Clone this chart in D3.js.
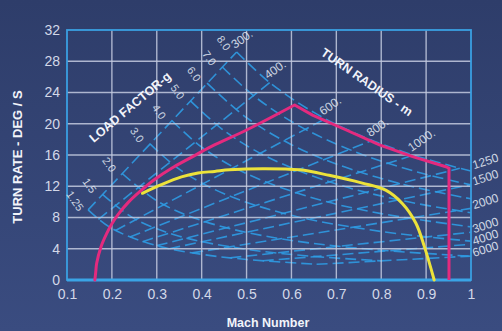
<!DOCTYPE html>
<html>
<head>
<meta charset="utf-8">
<script src="https://cdn.jsdelivr.net/npm/d3@7"></script>
<style>
  html, body { margin: 0; padding: 0; background: #34467a; }
  svg { display: block; }
  text { font-family: "Liberation Sans", Arial, sans-serif; }
</style>
</head>
<body>
<svg id="chart" width="502" height="331"></svg>
<script>
// ---------- data ----------
const machTicks = [0.1, 0.2, 0.3, 0.4, 0.5, 0.6, 0.7, 0.8, 0.9, 1];
const machTickLabels = ["0.1", "0.2", "0.3", "0.4", "0.5", "0.6", "0.7", "0.8", "0.9", "1"];
const rateTicks = [0, 4, 8, 12, 16, 20, 24, 28, 32];

// instantaneous (magenta) turn-rate envelope: smooth rise to the corner, then straight segments
const instantRiseMach = [0.162, 0.164, 0.166, 0.176, 0.188, 0.200, 0.214, 0.236, 0.262, 0.296, 0.333, 0.377, 0.422, 0.500, 0.607];
const instantRiseRate = [0, 1.0, 2.1, 4.3, 5.9, 7.2, 8.4, 9.9, 11.3, 12.9, 14.3, 15.7, 17.1, 19.2, 22.4];
const instantFallMach = [0.607, 0.647, 0.722, 0.796, 0.870, 0.944, 0.951, 0.951];
const instantFallRate = [22.4, 21.1, 19.2, 17.3, 15.8, 14.5, 14.3, 0];

// sustained (yellow) turn-rate
const sustainedMach = [0.268, 0.310, 0.355, 0.392, 0.429, 0.462, 0.536, 0.618, 0.684, 0.758, 0.810, 0.847, 0.877, 0.896, 0.918];
const sustainedRate = [11.1, 12.2, 13.2, 13.7, 13.9, 14.1, 14.25, 14.1, 13.4, 12.4, 11.5, 9.8, 7.3, 4.3, 0];

// load factor lines (dashed), points [mach, rate]
const loadFactors = ["1.25", "1.5", "2.0", "3.0", "4.0", "5.0", "6.0", "7.0", "8.0"];
const loadFactorLines = [
  [[0.147, 8.97], [0.2, 6.59], [0.3, 4.39], [0.4, 3.29], [0.5, 2.63], [0.656, 2.01]],
  [[0.179, 10.95], [0.25, 7.86], [0.35, 5.61], [0.5, 3.93], [0.65, 3.02], [0.801, 2.45]],
  [[0.223, 13.63], [0.3, 10.14], [0.4, 7.61], [0.55, 5.53], [0.75, 4.06], [1.0, 3.04]],
  [[0.285, 17.42], [0.35, 14.19], [0.45, 11.04], [0.6, 8.28], [0.8, 6.21], [1.0, 4.97]],
  [[0.334, 20.39], [0.4, 17.01], [0.5, 13.61], [0.65, 10.47], [0.8, 8.50], [1.0, 6.80]],
  [[0.375, 22.93], [0.45, 19.12], [0.55, 15.65], [0.7, 12.29], [0.85, 10.12], [1.0, 8.61]],
  [[0.412, 25.2], [0.5, 20.78], [0.6, 17.32], [0.7, 14.84], [0.85, 12.22], [1.0, 10.39]],
  [[0.446, 27.27], [0.52, 23.4], [0.62, 19.63], [0.75, 16.23], [0.88, 13.83], [1.0, 12.17]],
  [[0.478, 29.19], [0.55, 25.35], [0.65, 21.45], [0.75, 18.59], [0.87, 16.02], [1.0, 13.94]]
];

// turn radius lines (dashed, straight): start and end [mach, rate]
const turnRadii = ["300.", "400.", "600.", "800.", "1000.", "1250", "1500", "2000", "3000", "4000", "6000"];
const radiusStart = [[0.147, 8.97], [0.170, 7.77], [0.208, 6.34], [0.240, 5.49], [0.268, 4.91], [0.300, 4.40],
                     [0.328, 4.01], [0.379, 3.47], [0.464, 2.84], [0.536, 2.46], [0.656, 2.01]];
const radiusEnd = [[0.478, 29.19], [0.552, 25.28], [0.675, 20.64], [0.780, 17.88], [0.872, 15.99], [0.975, 14.30],
                   [1.0, 12.22], [1.0, 9.17], [1.0, 6.11], [1.0, 4.58], [1.0, 3.06]];

// ---------- drawing ----------
const W = 502, H = 331;
const svg = d3.select("#chart");
const defs = svg.append("defs");
const grad = defs.append("linearGradient").attr("id", "bg").attr("x1", 0).attr("y1", 0).attr("x2", 0).attr("y2", 1);
grad.append("stop").attr("offset", "0%").attr("stop-color", "#2e3d6a");
grad.append("stop").attr("offset", "100%").attr("stop-color", "#3a4c80");
svg.append("rect").attr("width", W).attr("height", H).attr("fill", "url(#bg)");

const x = d3.scaleLinear().domain([0.1, 1]).range([67, 471]);
const y = d3.scaleLinear().domain([0, 32]).range([280, 30]);

defs.append("clipPath").attr("id", "plotClip")
  .append("rect").attr("x", x(0.1)).attr("y", y(32)).attr("width", x(1) - x(0.1)).attr("height", y(0) - y(32));

// dashed reference lines
const dashColor = "#2f9be3";
const gDash = svg.append("g").attr("clip-path", "url(#plotClip)");
const curveLine = d3.line().x(d => x(d[0])).y(d => y(d[1])).curve(d3.curveCatmullRom);
gDash.selectAll("path.lf").data(loadFactorLines).join("path")
  .attr("class", "lf")
  .attr("d", curveLine)
  .attr("fill", "none").attr("stroke", dashColor).attr("stroke-width", 1.6)
  .attr("stroke-dasharray", "11,5").attr("opacity", 0.9);
gDash.selectAll("line.rr").data(turnRadii.map((r, i) => [radiusStart[i], radiusEnd[i]])).join("line")
  .attr("class", "rr")
  .attr("x1", d => x(d[0][0])).attr("y1", d => y(d[0][1]))
  .attr("x2", d => x(d[1][0])).attr("y2", d => y(d[1][1]))
  .attr("stroke", dashColor).attr("stroke-width", 1.6)
  .attr("stroke-dasharray", "11,5").attr("opacity", 0.9);

// grid
const gridColor = "#c4cbe0";
const gGrid = svg.append("g");
gGrid.selectAll("line.vx").data(machTicks.slice(1, -1)).join("line")
  .attr("x1", d => x(d)).attr("x2", d => x(d)).attr("y1", y(0)).attr("y2", y(32))
  .attr("stroke", gridColor).attr("stroke-width", 1.4).attr("opacity", 0.85);
gGrid.selectAll("line.hy").data(rateTicks.slice(1, -1)).join("line")
  .attr("y1", d => y(d)).attr("y2", d => y(d)).attr("x1", x(0.1)).attr("x2", x(1))
  .attr("stroke", gridColor).attr("stroke-width", 1.4).attr("opacity", 0.85);

// frame
svg.append("rect").attr("x", x(0.1)).attr("y", y(32)).attr("width", x(1) - x(0.1)).attr("height", y(0) - y(32))
  .attr("fill", "none").attr("stroke", "#3a9fe2").attr("stroke-width", 1.8);
svg.append("line").attr("x1", x(0.1)).attr("x2", x(1)).attr("y1", y(0)).attr("y2", y(0))
  .attr("stroke", "#3aa4e6").attr("stroke-width", 3);

// axes (ticks text only)
const xAxis = d3.axisBottom(x).tickValues(machTicks).tickFormat((d, i) => machTickLabels[i]).tickSize(0).tickPadding(9);
const gx = svg.append("g").attr("transform", `translate(0,${y(0)})`).call(xAxis);
gx.select(".domain").remove();
gx.selectAll("text").attr("fill", "#d3d8e8").attr("font-size", 14)
  .attr("font-family", "'Liberation Sans', Arial, sans-serif");

const yAxis = d3.axisLeft(y).tickValues(rateTicks).tickSize(0).tickPadding(7);
const gy = svg.append("g").attr("transform", `translate(${x(0.1)},0)`).call(yAxis);
gy.select(".domain").remove();
gy.selectAll("text").attr("fill", "#d3d8e8").attr("font-size", 14)
  .attr("font-family", "'Liberation Sans', Arial, sans-serif");

// performance curves
const lineLinear = d3.line().x(d => x(d[0])).y(d => y(d[1]));
const lineSmooth = d3.line().x(d => x(d[0])).y(d => y(d[1])).curve(d3.curveCatmullRom);
const riseData = instantRiseMach.map((m, i) => [m, instantRiseRate[i]]);
const fallData = instantFallMach.map((m, i) => [m, instantFallRate[i]]);
const sustData = sustainedMach.map((m, i) => [m, sustainedRate[i]]);
svg.append("path").attr("d", lineSmooth(riseData)).attr("fill", "none")
  .attr("stroke", "#e42a7e").attr("stroke-width", 3).attr("stroke-linecap", "round");
svg.append("path").attr("d", lineLinear(fallData)).attr("fill", "none")
  .attr("stroke", "#e42a7e").attr("stroke-width", 3).attr("stroke-linejoin", "miter");
svg.append("path").attr("d", lineSmooth(sustData)).attr("fill", "none")
  .attr("stroke", "#ece23a").attr("stroke-width", 3).attr("stroke-linecap", "round");

// load factor labels (at upper-left start of each line)
const labelColor = "#dfe3ef";
svg.selectAll("text.lfl").data(loadFactors).join("text")
  .attr("class", "lfl")
  .attr("transform", (d, i) => {
    const p = loadFactorLines[i][0];
    return `translate(${x(p[0]) - 13},${y(p[1]) - 9}) rotate(55)`;
  })
  .attr("text-anchor", "middle").attr("dy", "0.35em")
  .attr("font-size", 11).attr("fill", labelColor).attr("opacity", 0.9)
  .text(d => d);

// turn radius labels (at upper-right end of each line)
svg.selectAll("text.rrl").data(turnRadii).join("text")
  .attr("class", "rrl")
  .attr("transform", (d, i) => {
    const p = radiusEnd[i];
    if (i >= 5) return `translate(${x(1) + 3},${y(p[1]) + 1}) rotate(-18)`;
    return `translate(${x(p[0]) - 2},${y(p[1]) - 3}) rotate(-35)`;
  })
  .attr("text-anchor", "start")
  .attr("font-size", 12).attr("fill", labelColor).attr("opacity", 0.9)
  .text(d => d);

// titles
svg.append("text").attr("transform", "translate(130,107) rotate(-40)")
  .attr("text-anchor", "middle").attr("dy", "0.35em")
  .attr("font-weight", "bold").attr("font-size", 12.5).attr("fill", "#f2f4fa")
  .text("LOAD FACTOR-g");
svg.append("text").attr("transform", "translate(367,82) rotate(35)")
  .attr("text-anchor", "middle").attr("dy", "0.35em")
  .attr("font-weight", "bold").attr("font-size", 12.5).attr("fill", "#f2f4fa")
  .text("TURN RADIUS - m");
svg.append("text").attr("transform", "translate(22,157) rotate(-90)")
  .attr("text-anchor", "middle")
  .attr("font-weight", "bold").attr("font-size", 13).attr("fill", "#f2f4fa")
  .text("TURN RATE - DEG / S");
svg.append("text").attr("x", 268).attr("y", 327)
  .attr("text-anchor", "middle")
  .attr("font-weight", "bold").attr("font-size", 12.5).attr("fill", "#f2f4fa")
  .text("Mach Number");
</script>
</body>
</html>
